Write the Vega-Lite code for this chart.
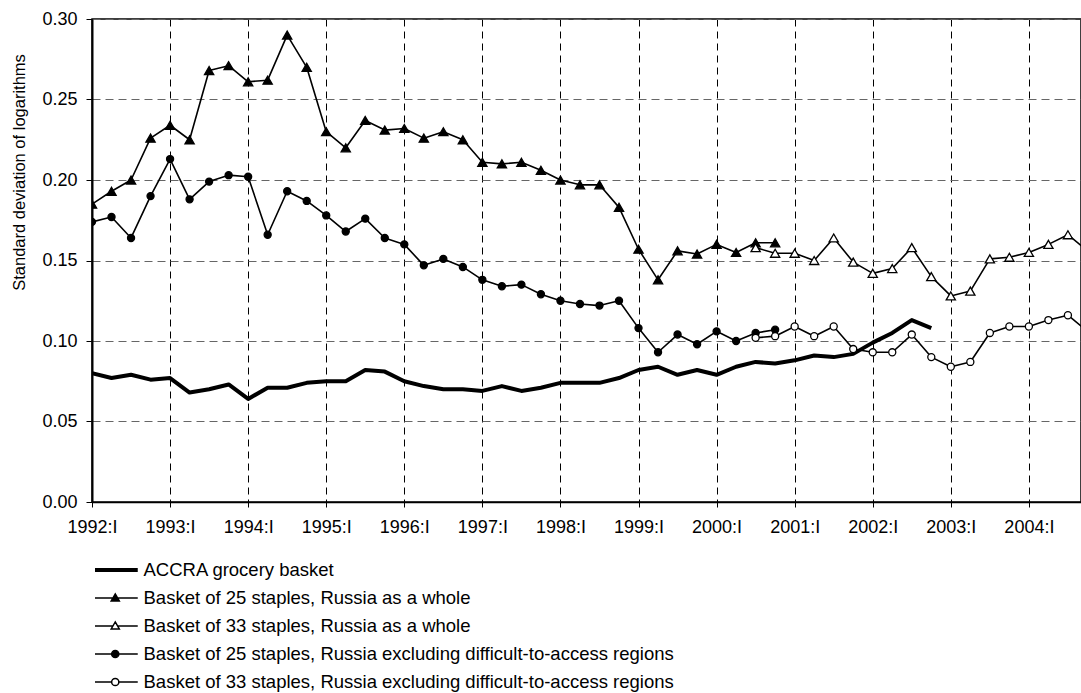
{
  "$schema": "https://vega.github.io/schema/vega-lite/v6.json",
  "width": 989,
  "height": 483,
  "autosize": {"type": "none"},
  "padding": {"left": 92, "top": 19, "right": 0, "bottom": 191},
  "background": "white",
  "config": {
    "font": "Liberation Sans",
    "view": {"stroke": "black", "strokeWidth": 1.5},
    "axis": {"labelFont": "Liberation Sans", "labelFontSize": 18, "labelColor": "black", "domainColor": "black", "tickColor": "black", "titleFont": "Liberation Sans", "titleFontWeight": "normal", "titleColor": "black", "labelFlush": false, "labelOverlap": false}
  },
  "datasets": {
    "series": [
      {"s": "ACCRA grocery basket", "q": 0, "v": 0.080}, {"s": "ACCRA grocery basket", "q": 1, "v": 0.077}, {"s": "ACCRA grocery basket", "q": 2, "v": 0.079}, {"s": "ACCRA grocery basket", "q": 3, "v": 0.076}, {"s": "ACCRA grocery basket", "q": 4, "v": 0.077}, {"s": "ACCRA grocery basket", "q": 5, "v": 0.068}, {"s": "ACCRA grocery basket", "q": 6, "v": 0.070}, {"s": "ACCRA grocery basket", "q": 7, "v": 0.073}, {"s": "ACCRA grocery basket", "q": 8, "v": 0.064}, {"s": "ACCRA grocery basket", "q": 9, "v": 0.071}, {"s": "ACCRA grocery basket", "q": 10, "v": 0.071}, {"s": "ACCRA grocery basket", "q": 11, "v": 0.074}, {"s": "ACCRA grocery basket", "q": 12, "v": 0.075}, {"s": "ACCRA grocery basket", "q": 13, "v": 0.075}, {"s": "ACCRA grocery basket", "q": 14, "v": 0.082}, {"s": "ACCRA grocery basket", "q": 15, "v": 0.081}, {"s": "ACCRA grocery basket", "q": 16, "v": 0.075}, {"s": "ACCRA grocery basket", "q": 17, "v": 0.072}, {"s": "ACCRA grocery basket", "q": 18, "v": 0.070}, {"s": "ACCRA grocery basket", "q": 19, "v": 0.070}, {"s": "ACCRA grocery basket", "q": 20, "v": 0.069}, {"s": "ACCRA grocery basket", "q": 21, "v": 0.072}, {"s": "ACCRA grocery basket", "q": 22, "v": 0.069}, {"s": "ACCRA grocery basket", "q": 23, "v": 0.071}, {"s": "ACCRA grocery basket", "q": 24, "v": 0.074}, {"s": "ACCRA grocery basket", "q": 25, "v": 0.074}, {"s": "ACCRA grocery basket", "q": 26, "v": 0.074}, {"s": "ACCRA grocery basket", "q": 27, "v": 0.077}, {"s": "ACCRA grocery basket", "q": 28, "v": 0.082}, {"s": "ACCRA grocery basket", "q": 29, "v": 0.084}, {"s": "ACCRA grocery basket", "q": 30, "v": 0.079}, {"s": "ACCRA grocery basket", "q": 31, "v": 0.082}, {"s": "ACCRA grocery basket", "q": 32, "v": 0.079}, {"s": "ACCRA grocery basket", "q": 33, "v": 0.084}, {"s": "ACCRA grocery basket", "q": 34, "v": 0.087}, {"s": "ACCRA grocery basket", "q": 35, "v": 0.086}, {"s": "ACCRA grocery basket", "q": 36, "v": 0.088}, {"s": "ACCRA grocery basket", "q": 37, "v": 0.091}, {"s": "ACCRA grocery basket", "q": 38, "v": 0.090}, {"s": "ACCRA grocery basket", "q": 39, "v": 0.092}, {"s": "ACCRA grocery basket", "q": 40, "v": 0.099}, {"s": "ACCRA grocery basket", "q": 41, "v": 0.105}, {"s": "ACCRA grocery basket", "q": 42, "v": 0.113}, {"s": "ACCRA grocery basket", "q": 43, "v": 0.108},
      {"s": "Basket of 25 staples, Russia as a whole", "q": 0, "v": 0.185}, {"s": "Basket of 25 staples, Russia as a whole", "q": 1, "v": 0.193}, {"s": "Basket of 25 staples, Russia as a whole", "q": 2, "v": 0.200}, {"s": "Basket of 25 staples, Russia as a whole", "q": 3, "v": 0.226}, {"s": "Basket of 25 staples, Russia as a whole", "q": 4, "v": 0.234}, {"s": "Basket of 25 staples, Russia as a whole", "q": 5, "v": 0.225}, {"s": "Basket of 25 staples, Russia as a whole", "q": 6, "v": 0.268}, {"s": "Basket of 25 staples, Russia as a whole", "q": 7, "v": 0.271}, {"s": "Basket of 25 staples, Russia as a whole", "q": 8, "v": 0.261}, {"s": "Basket of 25 staples, Russia as a whole", "q": 9, "v": 0.262}, {"s": "Basket of 25 staples, Russia as a whole", "q": 10, "v": 0.290}, {"s": "Basket of 25 staples, Russia as a whole", "q": 11, "v": 0.270}, {"s": "Basket of 25 staples, Russia as a whole", "q": 12, "v": 0.230}, {"s": "Basket of 25 staples, Russia as a whole", "q": 13, "v": 0.220}, {"s": "Basket of 25 staples, Russia as a whole", "q": 14, "v": 0.237}, {"s": "Basket of 25 staples, Russia as a whole", "q": 15, "v": 0.231}, {"s": "Basket of 25 staples, Russia as a whole", "q": 16, "v": 0.232}, {"s": "Basket of 25 staples, Russia as a whole", "q": 17, "v": 0.226}, {"s": "Basket of 25 staples, Russia as a whole", "q": 18, "v": 0.230}, {"s": "Basket of 25 staples, Russia as a whole", "q": 19, "v": 0.225}, {"s": "Basket of 25 staples, Russia as a whole", "q": 20, "v": 0.211}, {"s": "Basket of 25 staples, Russia as a whole", "q": 21, "v": 0.210}, {"s": "Basket of 25 staples, Russia as a whole", "q": 22, "v": 0.211}, {"s": "Basket of 25 staples, Russia as a whole", "q": 23, "v": 0.206}, {"s": "Basket of 25 staples, Russia as a whole", "q": 24, "v": 0.200}, {"s": "Basket of 25 staples, Russia as a whole", "q": 25, "v": 0.197}, {"s": "Basket of 25 staples, Russia as a whole", "q": 26, "v": 0.197}, {"s": "Basket of 25 staples, Russia as a whole", "q": 27, "v": 0.183}, {"s": "Basket of 25 staples, Russia as a whole", "q": 28, "v": 0.157}, {"s": "Basket of 25 staples, Russia as a whole", "q": 29, "v": 0.138}, {"s": "Basket of 25 staples, Russia as a whole", "q": 30, "v": 0.156}, {"s": "Basket of 25 staples, Russia as a whole", "q": 31, "v": 0.154}, {"s": "Basket of 25 staples, Russia as a whole", "q": 32, "v": 0.160}, {"s": "Basket of 25 staples, Russia as a whole", "q": 33, "v": 0.155}, {"s": "Basket of 25 staples, Russia as a whole", "q": 34, "v": 0.161}, {"s": "Basket of 25 staples, Russia as a whole", "q": 35, "v": 0.161},
      {"s": "Basket of 33 staples, Russia as a whole", "q": 34, "v": 0.158}, {"s": "Basket of 33 staples, Russia as a whole", "q": 35, "v": 0.1545}, {"s": "Basket of 33 staples, Russia as a whole", "q": 36, "v": 0.1545}, {"s": "Basket of 33 staples, Russia as a whole", "q": 37, "v": 0.150}, {"s": "Basket of 33 staples, Russia as a whole", "q": 38, "v": 0.164}, {"s": "Basket of 33 staples, Russia as a whole", "q": 39, "v": 0.149}, {"s": "Basket of 33 staples, Russia as a whole", "q": 40, "v": 0.142}, {"s": "Basket of 33 staples, Russia as a whole", "q": 41, "v": 0.145}, {"s": "Basket of 33 staples, Russia as a whole", "q": 42, "v": 0.158}, {"s": "Basket of 33 staples, Russia as a whole", "q": 43, "v": 0.140}, {"s": "Basket of 33 staples, Russia as a whole", "q": 44, "v": 0.128}, {"s": "Basket of 33 staples, Russia as a whole", "q": 45, "v": 0.131}, {"s": "Basket of 33 staples, Russia as a whole", "q": 46, "v": 0.151}, {"s": "Basket of 33 staples, Russia as a whole", "q": 47, "v": 0.152}, {"s": "Basket of 33 staples, Russia as a whole", "q": 48, "v": 0.155}, {"s": "Basket of 33 staples, Russia as a whole", "q": 49, "v": 0.160}, {"s": "Basket of 33 staples, Russia as a whole", "q": 50, "v": 0.166}, {"s": "Basket of 33 staples, Russia as a whole", "q": 51, "v": 0.156},
      {"s": "Basket of 25 staples, Russia excluding difficult-to-access regions", "q": 0, "v": 0.174}, {"s": "Basket of 25 staples, Russia excluding difficult-to-access regions", "q": 1, "v": 0.177}, {"s": "Basket of 25 staples, Russia excluding difficult-to-access regions", "q": 2, "v": 0.164}, {"s": "Basket of 25 staples, Russia excluding difficult-to-access regions", "q": 3, "v": 0.190}, {"s": "Basket of 25 staples, Russia excluding difficult-to-access regions", "q": 4, "v": 0.213}, {"s": "Basket of 25 staples, Russia excluding difficult-to-access regions", "q": 5, "v": 0.188}, {"s": "Basket of 25 staples, Russia excluding difficult-to-access regions", "q": 6, "v": 0.199}, {"s": "Basket of 25 staples, Russia excluding difficult-to-access regions", "q": 7, "v": 0.203}, {"s": "Basket of 25 staples, Russia excluding difficult-to-access regions", "q": 8, "v": 0.202}, {"s": "Basket of 25 staples, Russia excluding difficult-to-access regions", "q": 9, "v": 0.166}, {"s": "Basket of 25 staples, Russia excluding difficult-to-access regions", "q": 10, "v": 0.193}, {"s": "Basket of 25 staples, Russia excluding difficult-to-access regions", "q": 11, "v": 0.187}, {"s": "Basket of 25 staples, Russia excluding difficult-to-access regions", "q": 12, "v": 0.178}, {"s": "Basket of 25 staples, Russia excluding difficult-to-access regions", "q": 13, "v": 0.168}, {"s": "Basket of 25 staples, Russia excluding difficult-to-access regions", "q": 14, "v": 0.176}, {"s": "Basket of 25 staples, Russia excluding difficult-to-access regions", "q": 15, "v": 0.164}, {"s": "Basket of 25 staples, Russia excluding difficult-to-access regions", "q": 16, "v": 0.160}, {"s": "Basket of 25 staples, Russia excluding difficult-to-access regions", "q": 17, "v": 0.147}, {"s": "Basket of 25 staples, Russia excluding difficult-to-access regions", "q": 18, "v": 0.151}, {"s": "Basket of 25 staples, Russia excluding difficult-to-access regions", "q": 19, "v": 0.146}, {"s": "Basket of 25 staples, Russia excluding difficult-to-access regions", "q": 20, "v": 0.138}, {"s": "Basket of 25 staples, Russia excluding difficult-to-access regions", "q": 21, "v": 0.134}, {"s": "Basket of 25 staples, Russia excluding difficult-to-access regions", "q": 22, "v": 0.135}, {"s": "Basket of 25 staples, Russia excluding difficult-to-access regions", "q": 23, "v": 0.129}, {"s": "Basket of 25 staples, Russia excluding difficult-to-access regions", "q": 24, "v": 0.125}, {"s": "Basket of 25 staples, Russia excluding difficult-to-access regions", "q": 25, "v": 0.123}, {"s": "Basket of 25 staples, Russia excluding difficult-to-access regions", "q": 26, "v": 0.122}, {"s": "Basket of 25 staples, Russia excluding difficult-to-access regions", "q": 27, "v": 0.125}, {"s": "Basket of 25 staples, Russia excluding difficult-to-access regions", "q": 28, "v": 0.108}, {"s": "Basket of 25 staples, Russia excluding difficult-to-access regions", "q": 29, "v": 0.093}, {"s": "Basket of 25 staples, Russia excluding difficult-to-access regions", "q": 30, "v": 0.104}, {"s": "Basket of 25 staples, Russia excluding difficult-to-access regions", "q": 31, "v": 0.098}, {"s": "Basket of 25 staples, Russia excluding difficult-to-access regions", "q": 32, "v": 0.106}, {"s": "Basket of 25 staples, Russia excluding difficult-to-access regions", "q": 33, "v": 0.100}, {"s": "Basket of 25 staples, Russia excluding difficult-to-access regions", "q": 34, "v": 0.105}, {"s": "Basket of 25 staples, Russia excluding difficult-to-access regions", "q": 35, "v": 0.107},
      {"s": "Basket of 33 staples, Russia excluding difficult-to-access regions", "q": 34, "v": 0.102}, {"s": "Basket of 33 staples, Russia excluding difficult-to-access regions", "q": 35, "v": 0.103}, {"s": "Basket of 33 staples, Russia excluding difficult-to-access regions", "q": 36, "v": 0.109}, {"s": "Basket of 33 staples, Russia excluding difficult-to-access regions", "q": 37, "v": 0.103}, {"s": "Basket of 33 staples, Russia excluding difficult-to-access regions", "q": 38, "v": 0.109}, {"s": "Basket of 33 staples, Russia excluding difficult-to-access regions", "q": 39, "v": 0.095}, {"s": "Basket of 33 staples, Russia excluding difficult-to-access regions", "q": 40, "v": 0.093}, {"s": "Basket of 33 staples, Russia excluding difficult-to-access regions", "q": 41, "v": 0.093}, {"s": "Basket of 33 staples, Russia excluding difficult-to-access regions", "q": 42, "v": 0.104}, {"s": "Basket of 33 staples, Russia excluding difficult-to-access regions", "q": 43, "v": 0.090}, {"s": "Basket of 33 staples, Russia excluding difficult-to-access regions", "q": 44, "v": 0.084}, {"s": "Basket of 33 staples, Russia excluding difficult-to-access regions", "q": 45, "v": 0.087}, {"s": "Basket of 33 staples, Russia excluding difficult-to-access regions", "q": 46, "v": 0.105}, {"s": "Basket of 33 staples, Russia excluding difficult-to-access regions", "q": 47, "v": 0.109}, {"s": "Basket of 33 staples, Russia excluding difficult-to-access regions", "q": 48, "v": 0.109}, {"s": "Basket of 33 staples, Russia excluding difficult-to-access regions", "q": 49, "v": 0.113}, {"s": "Basket of 33 staples, Russia excluding difficult-to-access regions", "q": 50, "v": 0.116}, {"s": "Basket of 33 staples, Russia excluding difficult-to-access regions", "q": 51, "v": 0.106}
    ]
  },
  "data": {"name": "series"},
  "encoding": {
    "x": {"field": "q", "type": "quantitative", "scale": {"domain": [0, 50.67], "nice": false, "zero": false},
      "axis": {"values": [0, 4, 8, 12, 16, 20, 24, 28, 32, 36, 40, 44, 48], "labelExpr": "(1992 + datum.value / 4) + ':I'", "title": null, "tickSize": 5, "labelPadding": 11, "domainWidth": 1.5, "grid": true, "gridDash": [7, 5], "gridColor": "black", "gridWidth": 1}},
    "y": {"field": "v", "type": "quantitative", "scale": {"domain": [0, 0.3], "nice": false},
      "axis": {"values": [0, 0.05, 0.1, 0.15, 0.2, 0.25, 0.3], "format": ".2f", "title": "Standard deviation of logarithms", "titleFontSize": 16.5, "titleAngle": -90, "titleX": -73, "titleY": 153, "titleAlign": "center", "titleBaseline": "middle", "domainWidth": 2, "tickSize": 6, "labelPadding": 9, "grid": true, "gridDash": [8, 5], "gridColor": "#666666", "gridWidth": 1}}
  },
  "layer": [
    {
      "transform": [{"filter": {"field": "s", "equal": "ACCRA grocery basket"}}],
      "mark": {"type": "line", "clip": true, "strokeWidth": 4, "strokeJoin": "round"},
      "encoding": {
        "color": {"field": "s", "type": "nominal",
          "scale": {"domain": ["ACCRA grocery basket", "Basket of 25 staples, Russia as a whole", "Basket of 33 staples, Russia as a whole", "Basket of 25 staples, Russia excluding difficult-to-access regions", "Basket of 33 staples, Russia excluding difficult-to-access regions"], "range": ["black", "black", "black", "black", "black"]},
          "legend": {
            "orient": "none", "legendX": 3, "legendY": 541, "title": null, "padding": 0,
            "symbolSize": 2025, "symbolStrokeWidth": 1.5, "symbolOffset": 11, "labelFontSize": 18.5, "labelFont": "Liberation Sans", "labelColor": "black",
            "labelOffset": 19, "labelLimit": 1000, "clipHeight": 20, "rowPadding": 8,
            "encode": {"symbols": {"update": {
              "shape": {"signal": "datum.value === 'ACCRA grocery basket' ? 'M-1,0H1' : datum.value === 'Basket of 25 staples, Russia as a whole' ? 'M-1,0H1M0,-0.18L0.18,0.13L-0.18,0.13Z' : datum.value === 'Basket of 33 staples, Russia as a whole' ? 'M-1,0H-0.105M0.105,0H1M0,-0.18L0.18,0.13L-0.18,0.13Z' : datum.value === 'Basket of 25 staples, Russia excluding difficult-to-access regions' ? 'M-1,0H1M0.16,0A0.16,0.16,0,1,1,-0.16,0A0.16,0.16,0,1,1,0.16,0Z' : 'M-1,0H-0.16M0.16,0H1M0.16,0A0.16,0.16,0,1,1,-0.16,0A0.16,0.16,0,1,1,0.16,0Z'"},
              "fill": {"signal": "datum.value === 'Basket of 25 staples, Russia as a whole' || datum.value === 'Basket of 25 staples, Russia excluding difficult-to-access regions' ? 'black' : 'white'"},
              "stroke": {"value": "black"},
              "strokeWidth": {"signal": "datum.value === 'ACCRA grocery basket' ? 4 : 1.5"},
              "opacity": {"value": 1}
            }}}
          }
        }
      }
    },
    {
      "transform": [{"filter": {"not": {"field": "s", "equal": "ACCRA grocery basket"}}}],
      "mark": {"type": "line", "clip": true, "strokeWidth": 1.6, "strokeJoin": "round"},
      "encoding": {
        "color": {"field": "s", "type": "nominal"}
      }
    },
    {
      "transform": [{"filter": {"field": "s", "oneOf": ["Basket of 25 staples, Russia as a whole", "Basket of 33 staples, Russia as a whole"]}}],
      "mark": {"type": "point", "clip": true, "filled": true, "shape": "triangle-up", "size": 85, "stroke": "black", "strokeWidth": 1.3, "opacity": 1},
      "encoding": {
        "fill": {"field": "s", "type": "nominal", "scale": {"domain": ["Basket of 25 staples, Russia as a whole", "Basket of 33 staples, Russia as a whole"], "range": ["black", "white"]}, "legend": null}
      }
    },
    {
      "transform": [{"filter": {"field": "s", "oneOf": ["Basket of 25 staples, Russia excluding difficult-to-access regions", "Basket of 33 staples, Russia excluding difficult-to-access regions"]}}],
      "mark": {"type": "point", "clip": true, "filled": true, "shape": "circle", "size": 50, "stroke": "black", "strokeWidth": 1.3, "opacity": 1},
      "encoding": {
        "fill": {"field": "s", "type": "nominal", "scale": {"domain": ["Basket of 25 staples, Russia excluding difficult-to-access regions", "Basket of 33 staples, Russia excluding difficult-to-access regions"], "range": ["black", "white"]}, "legend": null}
      }
    }
  ],
  "resolve": {"scale": {"fill": "independent"}}
}
